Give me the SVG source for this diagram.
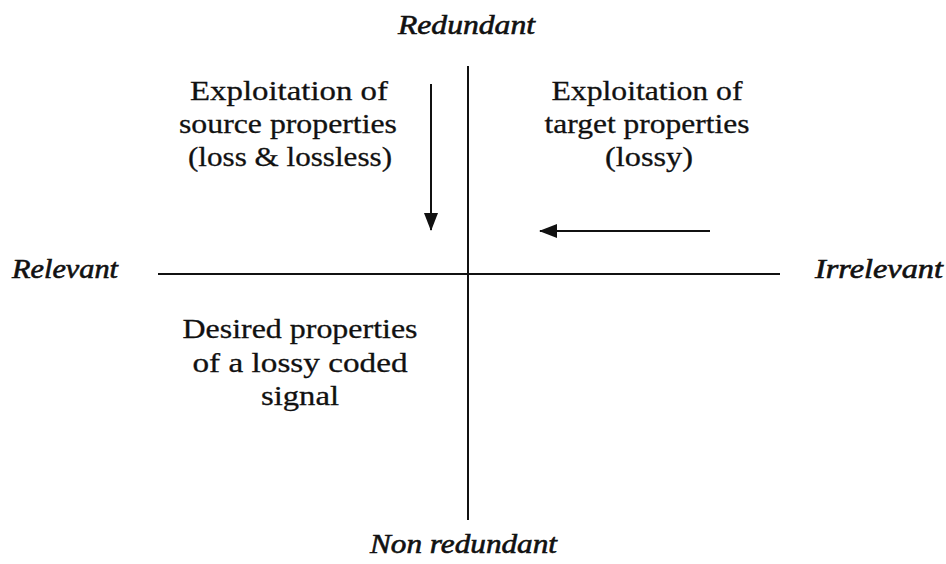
<svg xmlns="http://www.w3.org/2000/svg" width="946" height="564" viewBox="0 0 946 564">
<style>
.lbl{font-size:28px;fill:#111;stroke:#111;stroke-width:0.3;text-anchor:middle}
.ax{font-size:27px;font-style:italic;fill:#111;stroke:#111;stroke-width:0.6}
.line{stroke:#111;stroke-width:2;fill:none}
</style>
<defs>
<marker id="ah2" markerWidth="18" markerHeight="14" refX="17" refY="7" orient="auto" markerUnits="userSpaceOnUse" viewBox="0 0 18 14">
<path d="M0,0 L18,7 L0,14 Z" fill="#111"/>
</marker>
</defs>
<g id="connectors">
<line class="line" x1="468" y1="66" x2="468" y2="520"/>
<line class="line" x1="158" y1="274" x2="780" y2="274"/>
<line class="line" x1="431" y1="84" x2="431" y2="230" marker-end="url(#ah2)"/>
<line class="line" x1="710" y1="231" x2="540" y2="231" marker-end="url(#ah2)"/>
</g>
<g font-family="Liberation Serif, serif">
<g id="axis-top"><text class="ax" x="398" y="34" textLength="137" lengthAdjust="spacingAndGlyphs">Redundant</text></g>
<g id="axis-bottom"><text class="ax" x="370" y="553" textLength="187" lengthAdjust="spacingAndGlyphs">Non redundant</text></g>
<g id="axis-left"><text class="ax" x="12" y="278" textLength="106" lengthAdjust="spacingAndGlyphs">Relevant</text></g>
<g id="axis-right"><text class="ax" x="815" y="278" textLength="128" lengthAdjust="spacingAndGlyphs">Irrelevant</text></g>
<g id="source">
<text class="lbl" x="289" y="100" textLength="198" lengthAdjust="spacingAndGlyphs">Exploitation of</text>
<text class="lbl" x="288" y="133" textLength="218" lengthAdjust="spacingAndGlyphs">source properties</text>
<text class="lbl" x="290" y="166" textLength="204" lengthAdjust="spacingAndGlyphs">(loss &amp; lossless)</text>
</g>
<g id="target">
<text class="lbl" x="647" y="100" textLength="191" lengthAdjust="spacingAndGlyphs">Exploitation of</text>
<text class="lbl" x="647" y="133" textLength="205" lengthAdjust="spacingAndGlyphs">target properties</text>
<text class="lbl" x="649" y="166" textLength="88" lengthAdjust="spacingAndGlyphs">(lossy)</text>
</g>
<g id="desired">
<text class="lbl" x="300" y="338" textLength="235" lengthAdjust="spacingAndGlyphs">Desired properties</text>
<text class="lbl" x="300" y="372" textLength="215" lengthAdjust="spacingAndGlyphs">of a lossy coded</text>
<text class="lbl" x="300" y="405" textLength="78" lengthAdjust="spacingAndGlyphs">signal</text>
</g>
</g>
</svg>
